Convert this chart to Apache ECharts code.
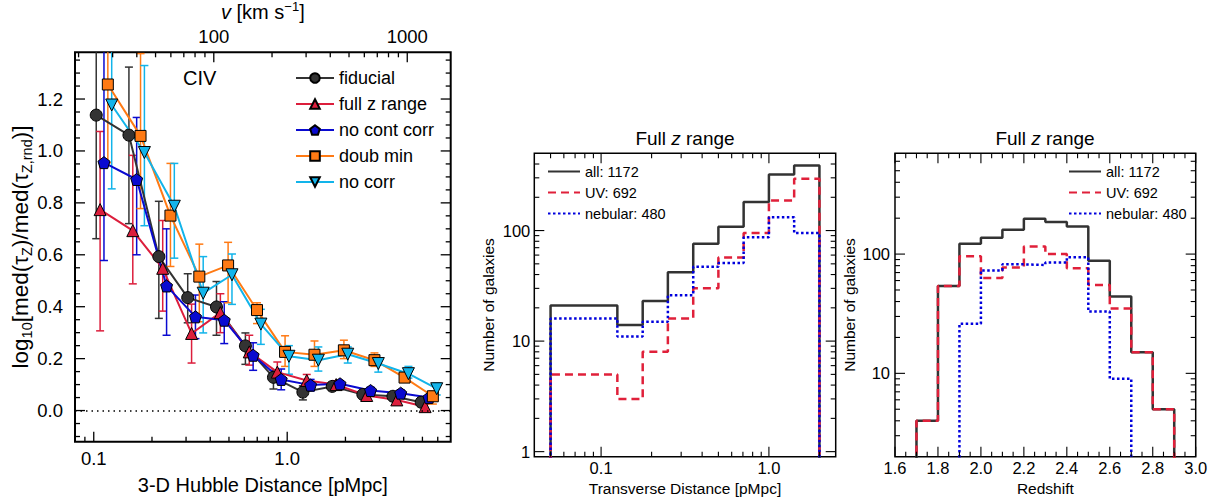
<!DOCTYPE html>
<html><head><meta charset="utf-8">
<script src="https://cdn.jsdelivr.net/npm/echarts@6/dist/echarts.min.js"></script>
<style>html,body{margin:0;padding:0;background:#fff}#c{width:1221px;height:501px}</style>
</head><body><div id="c"></div><script>
// ===================== DATA =====================
// Left panel: CIV optical-depth enhancement vs 3-D Hubble distance
const seriesNames = ['fiducial', 'full z range', 'no cont corr', 'doub min', 'no corr'];
const hubbleDistance = [0.103, 0.152, 0.217, 0.306, 0.431, 0.608, 0.849, 1.205, 1.71, 2.46, 3.52, 4.93]; // pMpc (fiducial bins)
const ditherDex = [0, 0.02, 0.04, 0.06, 0.08]; // horizontal offset of each variant (dex)
const hubbleH = 239.6; // km/s per pMpc, top axis conversion

const fiducialVal = [1.138, 1.061, 0.593, 0.435, 0.399, 0.249, 0.128, 0.071, 0.093, 0.062, 0.055, 0.032];
const fiducialLo  = [0.662, 0.720, 0.355, 0.338, 0.290, 0.178, 0.083, 0.041, 0.078, 0.050, 0.045, 0.020];
const fiducialHi  = [1.600, 1.323, 0.806, 0.527, 0.497, 0.299, 0.155, 0.095, 0.108, 0.075, 0.066, 0.044];

const fullzVal = [0.774, 0.693, 0.548, 0.297, 0.377, 0.226, 0.148, 0.116, 0.100, 0.058, 0.041, 0.015];
const fullzLo  = [0.307, 0.488, 0.383, 0.183, 0.300, 0.175, 0.110, 0.090, 0.085, 0.045, 0.030, 0.005];
const fullzHi  = [1.075, 0.983, 0.732, 0.410, 0.450, 0.290, 0.187, 0.139, 0.115, 0.070, 0.052, 0.025];

const nocontVal = [0.955, 0.890, 0.480, 0.361, 0.348, 0.213, 0.120, 0.098, 0.103, 0.077, 0.067, 0.050];
const nocontLo  = [0.578, 0.600, 0.290, 0.277, 0.258, 0.155, 0.080, 0.075, 0.090, 0.065, 0.055, 0.040];
const nocontHi  = [1.600, 1.129, 0.700, 0.445, 0.419, 0.261, 0.160, 0.120, 0.115, 0.090, 0.080, 0.060];

const doubminVal = [1.256, 1.058, 0.751, 0.516, 0.559, 0.387, 0.226, 0.215, 0.232, 0.194, 0.127, 0.055];
const doubminLo  = [0.955, 0.778, 0.555, 0.342, 0.415, 0.335, 0.170, 0.170, 0.200, 0.170, 0.110, 0.025];
const doubminHi  = [1.600, 1.375, 0.952, 0.641, 0.648, 0.415, 0.288, 0.268, 0.271, 0.222, 0.145, 0.075];

const nocorrVal = [1.177, 0.994, 0.787, 0.452, 0.523, 0.333, 0.209, 0.194, 0.217, 0.181, 0.142, 0.084];
const nocorrLo  = [0.854, 0.712, 0.587, 0.299, 0.409, 0.255, 0.140, 0.152, 0.183, 0.148, 0.125, 0.060];
const nocorrHi  = [1.600, 1.329, 0.952, 0.593, 0.603, 0.390, 0.250, 0.245, 0.245, 0.200, 0.170, 0.106];

// Middle panel: histogram of transverse distance
const histNames = ['all: 1172', 'UV: 692', 'nebular: 480'];
const transEdges = [0.05, 0.125, 0.177, 0.25, 0.354, 0.5, 0.707, 1.0, 1.414, 2.0];
const transAll = [21, 14, 23, 42, 76, 108, 181, 321, 387];
const transUV  = [5, 3, 8, 16, 30, 57, 95, 187, 294];
const transNeb = [16, 11, 15, 26, 47, 51, 87, 132, 95];

// Right panel: histogram of redshift
const zEdges = [1.7, 1.8, 1.9, 2.0, 2.1, 2.2, 2.3, 2.4, 2.5, 2.6, 2.7, 2.8, 2.9];
const zAll = [4, 54, 122, 137, 160, 198, 186, 170, 88, 44, 15, 5];
const zUV  = [4, 54, 96, 63, 77, 116, 100, 76, 55, 35, 15, 5];
const zNeb = [0, 0, 26, 73, 82, 81, 85, 94, 33, 9, 0, 0];

// Tick labels
const leftXMajor = [0.1, 1.0], leftXLabels = ['0.1', '1.0'];
const velMajor = [100, 1000], velLabels = ['100', '1000'];
const leftYMajor = [0, 0.2, 0.4, 0.6, 0.8, 1.0, 1.2], leftYLabels = ['0.0', '0.2', '0.4', '0.6', '0.8', '1.0', '1.2'];
const midXMajor = [0.1, 1.0], midXLabels = ['0.1', '1.0'];
const midYMajor = [1, 10, 100], midYLabels = ['1', '10', '100'];
const rightXMajor = [1.6, 1.8, 2.0, 2.2, 2.4, 2.6, 2.8, 3.0], rightXLabels = ['1.6', '1.8', '2.0', '2.2', '2.4', '2.6', '2.8', '3.0'];
const rightYMajor = [10, 100], rightYLabels = ['10', '100'];

// ===================== STYLE / LAYOUT =====================
const FONT = '"Liberation Sans", Arial, Helvetica, sans-serif';
const colors = ['#333333', '#dc1e3c', '#0a0ad0', '#ff7a14', '#12b4ea'];
const pent = 'path://M0,-10 L9.51,-3.09 L5.88,8.09 L-5.88,8.09 L-9.51,-3.09 Z';
const downTri = 'path://M-10,-8.66 L10,-8.66 L0,8.66 Z';
const symbols = ['circle', 'triangle', pent, 'rect', downTri];
const symSizes = [12, 12, 12, 11, 12];
const ext = {
  x0: [0.08, 7], y0: [-0.12, 1.38],
  x2: [0.04, 2.5], y1: [0.9, 500],
  x3: [1.6, 3.0], y2: [2, 700]
};

function logMinors(lo, hi, majors) {
  const out = [];
  for (let d = Math.floor(Math.log10(lo)); d <= Math.ceil(Math.log10(hi)); d++) {
    for (let k = 1; k <= 9; k++) {
      const v = +(k * Math.pow(10, d)).toPrecision(6);
      if (v > lo * 1.001 && v < hi * 0.999 && majors.indexOf(v) < 0) out.push(v);
    }
  }
  return out;
}
function linMinors(lo, hi, step, majors) {
  const out = [];
  for (let v = Math.ceil(lo / step - 1e-9) * step; v <= hi + 1e-9; v += step) {
    const r = +v.toFixed(4);
    if (r > lo + 1e-6 && r < hi - 1e-6 && !majors.some(m => Math.abs(m - r) < 1e-6)) out.push(r);
  }
  return out;
}

// Tick/label custom series
function xTicks(xIdx, yIdx, vals, labels, yRef, cfg) {
  return {
    type: 'custom', xAxisIndex: xIdx, yAxisIndex: yIdx, silent: true, z: 10, animation: false,
    data: vals.map(v => [v, yRef]),
    renderItem(params, api) {
      const cs = params.coordSys;
      const x = api.coord([api.value(0), api.value(1)])[0];
      const st = { stroke: '#000', lineWidth: cfg.lw || 1.2 };
      const ch = [];
      if (cfg.bottom) ch.push({ type: 'line', shape: { x1: x, y1: cs.y + cs.height, x2: x, y2: cs.y + cs.height - cfg.len }, style: st });
      if (cfg.top) ch.push({ type: 'line', shape: { x1: x, y1: cs.y, x2: x, y2: cs.y + cfg.len }, style: st });
      if (labels) {
        const y = cfg.labelSide === 'top' ? cs.y - cfg.gap : cs.y + cs.height + cfg.gap;
        ch.push({ type: 'text', x: x, y: y, style: { text: labels[params.dataIndex], fill: '#000', fontSize: cfg.fs, fontFamily: FONT, align: 'center', verticalAlign: 'middle' } });
      }
      return { type: 'group', children: ch };
    }
  };
}
function yTicks(xIdx, yIdx, vals, labels, xRef, cfg) {
  return {
    type: 'custom', xAxisIndex: xIdx, yAxisIndex: yIdx, silent: true, z: 10, animation: false,
    data: vals.map(v => [xRef, v]),
    renderItem(params, api) {
      const cs = params.coordSys;
      const y = api.coord([api.value(0), api.value(1)])[1];
      const st = { stroke: '#000', lineWidth: cfg.lw || 1.2 };
      const ch = [
        { type: 'line', shape: { x1: cs.x, y1: y, x2: cs.x + cfg.len, y2: y }, style: st },
        { type: 'line', shape: { x1: cs.x + cs.width, y1: y, x2: cs.x + cs.width - cfg.len, y2: y }, style: st }
      ];
      if (labels) {
        ch.push({ type: 'text', x: cs.x - cfg.gap, y: y, style: { text: labels[params.dataIndex], fill: '#000', fontSize: cfg.fs, fontFamily: FONT, align: 'right', verticalAlign: 'middle' } });
      }
      return { type: 'group', children: ch };
    }
  };
}

function errSeries(color, xs, lo, hi) {
  return {
    type: 'custom', xAxisIndex: 0, yAxisIndex: 0, silent: true, animation: false,
    data: xs.map((x, i) => [x, lo[i], hi[i]]),
    renderItem(params, api) {
      const cs = params.coordSys;
      const pLo = api.coord([api.value(0), api.value(1)]);
      const pHi = api.coord([api.value(0), api.value(2)]);
      const top = cs.y, bot = cs.y + cs.height;
      const cl = v => Math.min(Math.max(v, top), bot);
      const st = { stroke: color, lineWidth: 1.5 };
      const w = 4;
      const ch = [{ type: 'line', shape: { x1: pLo[0], y1: cl(pHi[1]), x2: pLo[0], y2: cl(pLo[1]) }, style: st }];
      if (pHi[1] >= top) ch.push({ type: 'line', shape: { x1: pHi[0] - w, y1: pHi[1], x2: pHi[0] + w, y2: pHi[1] }, style: st });
      if (pLo[1] <= bot) ch.push({ type: 'line', shape: { x1: pLo[0] - w, y1: pLo[1], x2: pLo[0] + w, y2: pLo[1] }, style: st });
      return { type: 'group', children: ch };
    }
  };
}

function staircase(edges, vals, floor) {
  const pts = [];
  for (let i = 0; i < vals.length; i++) {
    if (!(vals[i] > 0)) continue;
    if (i === 0 || !(vals[i - 1] > 0)) pts.push([edges[i], floor]);
    pts.push([edges[i], vals[i]], [edges[i + 1], vals[i]]);
    if (i === vals.length - 1 || !(vals[i + 1] > 0)) pts.push([edges[i + 1], floor]);
  }
  return pts;
}

// ===================== BUILD =====================
const leftVals = [fiducialVal, fullzVal, nocontVal, doubminVal, nocorrVal];
const leftLo = [fiducialLo, fullzLo, nocontLo, doubminLo, nocorrLo];
const leftHi = [fiducialHi, fullzHi, nocontHi, doubminHi, nocorrHi];

const series = [];
seriesNames.forEach((name, s) => {
  const xs = hubbleDistance.map(d => d * Math.pow(10, ditherDex[s]));
  series.push(errSeries(colors[s], xs, leftLo[s], leftHi[s]));
  const ls = {
    type: 'line', name: name, xAxisIndex: 0, yAxisIndex: 0, animation: false,
    data: xs.map((x, i) => [x, leftVals[s][i]]),
    symbol: symbols[s], symbolSize: symSizes[s], showAllSymbol: true,
    lineStyle: { color: colors[s], width: 2 },
    itemStyle: { color: colors[s], borderColor: '#000', borderWidth: 1 }
  };
  if (s === 0) {
    ls.markLine = { silent: true, symbol: ['none', 'none'], label: { show: false }, animation: false,
      lineStyle: { color: '#000', type: [1.5, 4], width: 1.5 }, data: [{ yAxis: 0 }] };
  }
  series.push(ls);
});

const histStyles = [
  { color: '#333333', type: 'solid' },
  { color: '#e0203a', type: [8, 5] },
  { color: '#0000dd', type: [2.5, 2.5] }
];
[[transAll, transUV, transNeb], [zAll, zUV, zNeb]].forEach((set, p) => {
  const edges = p === 0 ? transEdges : zEdges;
  const floor = p === 0 ? ext.y1[0] * 0.5 : ext.y2[0] * 0.5;
  set.forEach((vals, k) => {
    series.push({
      type: 'line', name: histNames[k], xAxisIndex: p === 0 ? 2 : 3, yAxisIndex: p === 0 ? 1 : 2,
      animation: false, symbol: 'none', clip: true, z: 3 + k,
      data: staircase(edges, vals, floor),
      itemStyle: { color: histStyles[k].color },
      lineStyle: { color: histStyles[k].color, width: 2.5, type: histStyles[k].type }
    });
  });
});

// ticks
series.push(xTicks(0, 0, leftXMajor, leftXLabels, 0, { bottom: true, top: false, len: 10, lw: 1.3, fs: 18.5, gap: 16.6 }));
series.push(xTicks(0, 0, logMinors(ext.x0[0], ext.x0[1], leftXMajor), null, 0, { bottom: true, top: false, len: 5, lw: 1.3 }));
series.push(xTicks(1, 0, velMajor, velLabels, 0, { bottom: false, top: true, len: 10, lw: 1.3, fs: 18.5, gap: 15.6, labelSide: 'top' }));
series.push(xTicks(1, 0, logMinors(ext.x0[0] * hubbleH, ext.x0[1] * hubbleH, velMajor), null, 0, { bottom: false, top: true, len: 5, lw: 1.3 }));
series.push(yTicks(0, 0, leftYMajor, leftYLabels, 1, { len: 10, lw: 1.3, fs: 18.5, gap: 12 }));
series.push(yTicks(0, 0, linMinors(ext.y0[0], ext.y0[1], 0.05, leftYMajor), null, 1, { len: 5, lw: 1.3 }));

series.push(xTicks(2, 1, midXMajor, midXLabels, 1, { bottom: true, top: true, len: 10, lw: 1.1, fs: 16.5, gap: 11.6 }));
series.push(xTicks(2, 1, logMinors(ext.x2[0], ext.x2[1], midXMajor), null, 1, { bottom: true, top: true, len: 5, lw: 1.1 }));
series.push(yTicks(2, 1, midYMajor, midYLabels, 0.1, { len: 10, lw: 1.1, fs: 16.5, gap: 4 }));
series.push(yTicks(2, 1, logMinors(ext.y1[0], ext.y1[1], midYMajor), null, 0.1, { len: 5, lw: 1.1 }));

series.push(xTicks(3, 2, rightXMajor, rightXLabels, 10, { bottom: true, top: true, len: 10, lw: 1.1, fs: 16.5, gap: 11 }));
series.push(xTicks(3, 2, linMinors(ext.x3[0], ext.x3[1], 0.05, rightXMajor), null, 10, { bottom: true, top: true, len: 5, lw: 1.1 }));
series.push(yTicks(3, 2, rightYMajor, rightYLabels, 2, { len: 10, lw: 1.1, fs: 16.5, gap: 5 }));
series.push(yTicks(3, 2, logMinors(ext.y2[0], ext.y2[1], rightYMajor), null, 2, { len: 5, lw: 1.1 }));

const hidden = { axisLine: { show: false }, axisTick: { show: false }, axisLabel: { show: false }, splitLine: { show: false } };
const subRich = {
  n: { fontSize: 20, fontFamily: FONT, color: '#000', lineHeight: 24 },
  s: { fontSize: 13, fontFamily: FONT, color: '#000', lineHeight: 13, verticalAlign: 'bottom' },
  i: { fontSize: 20, fontFamily: FONT, color: '#000', lineHeight: 24, fontStyle: 'italic' },
  sup: { fontSize: 13, fontFamily: FONT, color: '#000', lineHeight: 13, verticalAlign: 'top' }
};
const yRich = {
  n: { fontSize: 22.5, fontFamily: FONT, color: '#000', lineHeight: 27 },
  s: { fontSize: 14.5, fontFamily: FONT, color: '#000', lineHeight: 14.5, verticalAlign: 'bottom' }
};
const titleRich = {
  n: { fontSize: 19, fontFamily: FONT, color: '#000', fontWeight: 'normal' },
  i: { fontSize: 19, fontFamily: FONT, color: '#000', fontStyle: 'italic', fontWeight: 'normal' }
};
const histLegend = (left) => ({
  data: histNames, orient: 'vertical', left: left, top: 164, padding: 0, itemWidth: 32, itemHeight: 10, itemGap: 6,
  itemStyle: { opacity: 0 },
  textStyle: { fontSize: 14.5, fontFamily: FONT, color: '#000' }, selectedMode: false
});

const option = {
  backgroundColor: '#fff',
  animation: false,
  title: [
    { text: '{n|Full }{i|z}{n| range}', left: 685, top: 129, padding: 0, textAlign: 'center', textStyle: { fontWeight: 'normal', rich: titleRich } },
    { text: '{n|Full }{i|z}{n| range}', left: 1045, top: 129, padding: 0, textAlign: 'center', textStyle: { fontWeight: 'normal', rich: titleRich } }
  ],
  grid: [
    { left: 75, top: 52.3, width: 375.7, height: 389.4, show: true, borderColor: '#000', borderWidth: 2, backgroundColor: 'transparent', containLabel: false, outerBoundsMode: 'none' },
    { left: 534.3, top: 153.3, width: 301.4, height: 303.4, show: true, borderColor: '#000', borderWidth: 1.5, backgroundColor: 'transparent', containLabel: false, outerBoundsMode: 'none' },
    { left: 895, top: 153.3, width: 300.7, height: 303.4, show: true, borderColor: '#000', borderWidth: 1.5, backgroundColor: 'transparent', containLabel: false, outerBoundsMode: 'none' }
  ],
  xAxis: [
    Object.assign({ gridIndex: 0, type: 'log', logBase: 10, min: ext.x0[0], max: ext.x0[1], position: 'bottom',
      name: '3-D Hubble Distance [pMpc]', nameLocation: 'middle', nameGap: 33,
      nameTextStyle: { fontSize: 20, fontFamily: FONT, color: '#000' } }, hidden),
    Object.assign({ gridIndex: 0, type: 'log', logBase: 10, min: ext.x0[0] * hubbleH, max: ext.x0[1] * hubbleH, position: 'top',
      name: '{i|v}{n| [km s}{sup|−1}{n|]}', nameLocation: 'middle', nameGap: 28,
      nameTextStyle: { rich: subRich } }, hidden),
    Object.assign({ gridIndex: 1, type: 'log', logBase: 10, min: ext.x2[0], max: ext.x2[1],
      name: 'Transverse Distance [pMpc]', nameLocation: 'middle', nameGap: 24,
      nameTextStyle: { fontSize: 15.5, fontFamily: FONT, color: '#000' } }, hidden),
    Object.assign({ gridIndex: 2, type: 'value', min: ext.x3[0], max: ext.x3[1],
      name: 'Redshift', nameLocation: 'middle', nameGap: 24,
      nameTextStyle: { fontSize: 15.5, fontFamily: FONT, color: '#000' } }, hidden)
  ],
  yAxis: [
    Object.assign({ gridIndex: 0, type: 'value', min: ext.y0[0], max: ext.y0[1],
      name: '{n|log}{s|10}{n|[med(τ}{s|Z}{n|)/med(τ}{s|Z,rnd}{n|)]}', nameLocation: 'middle', nameGap: 41, nameRotate: 90,
      nameTextStyle: { rich: yRich } }, hidden),
    Object.assign({ gridIndex: 1, type: 'log', logBase: 10, min: ext.y1[0], max: ext.y1[1],
      name: 'Number of galaxies', nameLocation: 'middle', nameGap: 38, nameRotate: 90,
      nameTextStyle: { fontSize: 15.5, fontFamily: FONT, color: '#000' } }, hidden),
    Object.assign({ gridIndex: 2, type: 'log', logBase: 10, min: ext.y2[0], max: ext.y2[1],
      name: 'Number of galaxies', nameLocation: 'middle', nameGap: 38, nameRotate: 90,
      nameTextStyle: { fontSize: 15.5, fontFamily: FONT, color: '#000' } }, hidden)
  ],
  legend: [
    { data: seriesNames, orient: 'vertical', left: 295, top: 69, padding: 0, itemWidth: 38, itemHeight: 12, itemGap: 8,
      textStyle: { fontSize: 18, fontFamily: FONT, color: '#000' }, selectedMode: false },
    histLegend(547),
    histLegend(1068)
  ],
  graphic: [
    { type: 'text', left: 183, top: 68, style: { text: 'CIV', fontSize: 20, fontFamily: FONT, fill: '#000' } }
  ],
  series: series
};

const chart = echarts.init(document.getElementById('c'), null, { renderer: 'svg' });
chart.setOption(option);
</script></body></html>
